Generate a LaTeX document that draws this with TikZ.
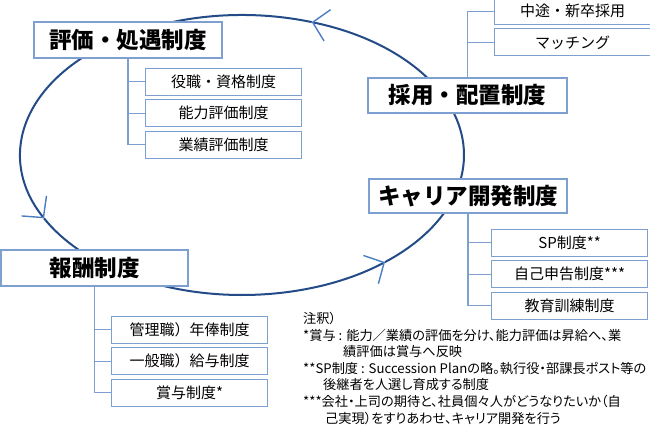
\documentclass[tikz,border=0pt]{standalone}
\usepackage{fontspec}
\setmainfont{Noto Sans CJK JP}
\usetikzlibrary{positioning, arrows.meta}
\definecolor{boxblue}{RGB}{125,160,208}
\definecolor{cycleblue}{RGB}{35,75,135}
\definecolor{tipblue}{RGB}{75,125,195}
\tikzset{Main style/.style={draw=boxblue, line width=1.2pt, fill=white, inner sep=0pt, font=\fontsize{22.5}{24}\selectfont\bfseries}}
\tikzset{Sub style/.style={draw=boxblue, line width=1.1pt, fill=white, inner sep=0pt, minimum width=156pt, minimum height=27pt, font=\fontsize{15}{17}\selectfont}}
\tikzset{Branch style/.style={draw=boxblue, line width=1.1pt}}
\tikzset{
	Cycle style/.style={draw=cycleblue, line width=2pt}, % linea del ciclo
	>={Straight Barb[length=15pt, width=32pt, line width=1.4pt, color=tipblue]}, % puntas abiertas
	node distance=3.5pt, % Distancia entre cajas
}

\begin{document}
\begin{tikzpicture}[x=1pt, y=-1pt]
        \useasboundingbox (0,0) rectangle (650,424);

        % ciclo
        \coordinate (hub) at (242,155);
        \draw[Cycle style, ->] ([shift={(0:222 and 140)}]hub) arc[start angle=0, end angle=-71.7, x radius=222, y radius=140];
        \draw[Cycle style, ->] ([shift={(-71.7:222 and 140)}]hub) arc[start angle=-71.7, end angle=-206.9, x radius=222, y radius=140];
        \draw[Cycle style, ->] ([shift={(-206.9:222 and 140)}]hub) arc[start angle=-206.9, end angle=-310.1, x radius=222, y radius=140];
        \draw[Cycle style] ([shift={(-310.1:222 and 140)}]hub) arc[start angle=-310.1, end angle=-360, x radius=222, y radius=140];

        \node[Main style, minimum width=188pt, minimum height=36pt] (eval) at (128,40) {評価・処遇制度};
        \node[Main style, minimum width=199pt, minimum height=35pt] (recruit) at (467.5,95.5) {採用・配置制度};
        \node[Main style, minimum width=198pt, minimum height=34pt] (career) at (468,196) {キャリア開発制度};
        \node[Main style, minimum width=187pt, minimum height=36pt] (reward) at (94.5,268) {報酬制度};

        \node[Sub style, below right=9pt and 17pt of eval.south] (eval1) {役職・資格制度};
        \node[Sub style, below=of eval1] (eval2) {能力評価制度};
        \node[Sub style, below=of eval2] (eval3) {業績評価制度};

        \node[Sub style, above right=21pt and 26.5pt of recruit.north] (recruit2) {マッチング};
        \node[Sub style, above=3pt of recruit2] (recruit1) {中途・新卒採用};

        \node[Sub style, below right=15pt and 23pt of career.south] (career1) {SP制度**};
        \node[Sub style, below=of career1] (career2) {自己申告制度***};
        \node[Sub style, below=of career2] (career3) {教育訓練制度};

        \node[Sub style, below right=29pt and 16.5pt of reward.south] (reward1) {管理職）年俸制度};
        \node[Sub style, below=of reward1] (reward2) {一般職）給与制度};
        \node[Sub style, below=of reward2] (reward3) {賞与制度*};

        \draw[Branch style] (eval) |- (eval1)
              (eval) |- (eval2)
              (eval) |- (eval3);
        \draw[Branch style] (recruit) |- (recruit1)
              (recruit) |- (recruit2);
        \draw[Branch style] (career) |- (career1)
              (career) |- (career2)
              (career) |- (career3);
        \draw[Branch style] (reward) |- (reward1)
              (reward) |- (reward2)
              (reward) |- (reward3);

        \node[anchor=north west, inner sep=0pt, align=left, font=\fontsize{13.2}{16.6}\selectfont\addfontfeatures{RawFeature=+palt}] (notes) at (303,312) {注釈）\\
              {}*賞与 : 能力／業績の評価を分け、能力評価は昇給へ、業\\
              \hspace*{40pt}績評価は賞与へ反映\\
              {}**SP制度 : Succession Planの略。執行役・部課長ポスト等の\\
              \hspace*{20pt}後継者を人選し育成する制度\\
              {}***会社・上司の期待と、社員個々人がどうなりたいか（自\\
              \hspace*{22pt}己実現）をすりあわせ、キャリア開発を行う};
\end{tikzpicture}
\end{document}
